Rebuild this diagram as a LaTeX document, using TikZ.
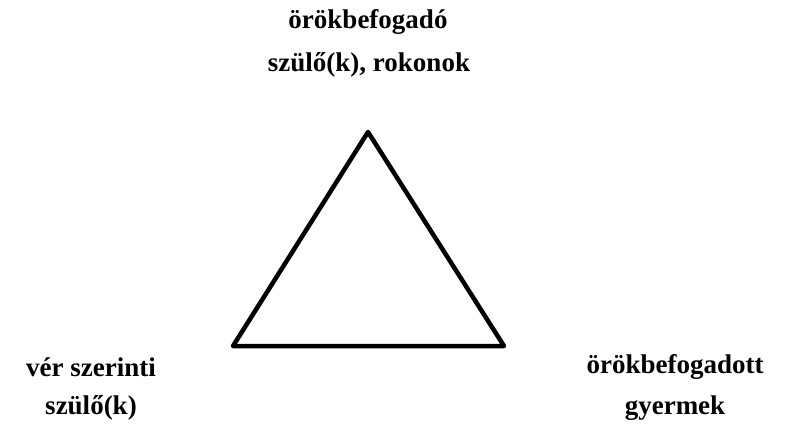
\documentclass[tikz,border=0pt]{standalone}
\usepackage{fontspec}
\setmainfont{Liberation Serif}
\begin{document}
\begin{tikzpicture}[x=1pt,y=-1pt,
  lbl/.style={font=\fontsize{27}{44}\selectfont\bfseries, align=center, inner sep=0pt}]
\useasboundingbox (0,0) rectangle (795,423);
\coordinate (top) at (368,132);
\coordinate (bl) at (233,346);
\coordinate (br) at (504,346);
\draw[line width=4.5pt, line join=round] (top) -- (br) -- (bl) -- cycle;
\node[lbl] (t1) at (368,22) {örökbefogadó};
\node[lbl] (t2) at (369,65) {szülő(k), rokonok};
\node[lbl] (l1) at (91,367) {vér szerinti};
\node[lbl] (l2) at (91,408) {szülő(k)};
\node[lbl] (r1) at (675,367) {örökbefogadott};
\node[lbl] (r2) at (675,408) {gyermek};
\end{tikzpicture}
\end{document}
